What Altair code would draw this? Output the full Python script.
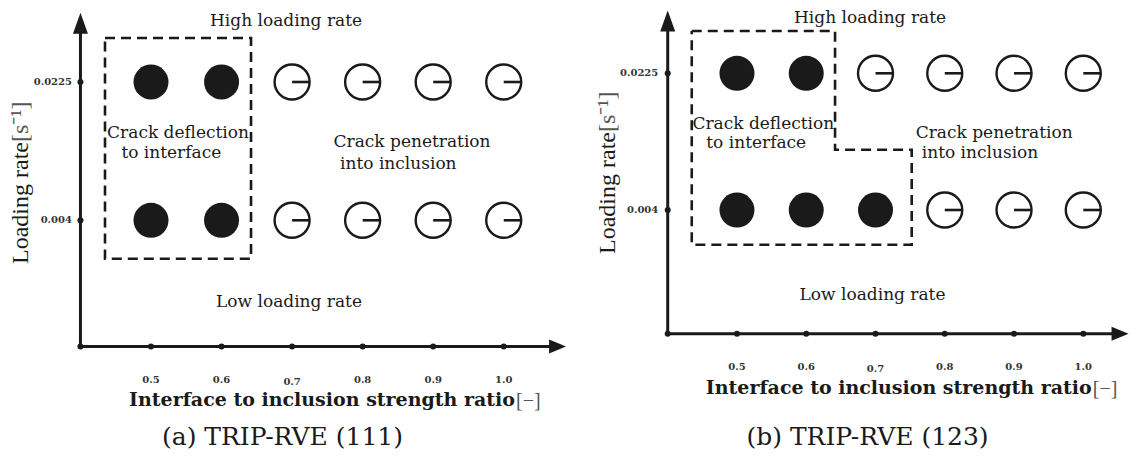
import altair as alt
import pandas as pd

# ---------------- data ----------------
ratios = [0.5, 0.6, 0.7, 0.8, 0.9, 1.0]
ratio_labels = ["0.5", "0.6", "0.7", "0.8", "0.9", "1.0"]
rate_labels = ["0.0225", "0.004"]
rate_levels = [2, 1]          # row of each loading rate (high, low)

# crack behaviour: D = deflection to interface (filled), P = penetration into inclusion (open)
a_high = ["D", "D", "P", "P", "P", "P"]
a_low = ["D", "D", "P", "P", "P", "P"]
b_high = ["D", "D", "P", "P", "P", "P"]
b_low = ["D", "D", "D", "P", "P", "P"]

captions = ["(a) TRIP-RVE (111)", "(b) TRIP-RVE (123)"]
x_title = "Interface to inclusion strength ratio"
x_unit = "[\u2212]"
y_title = "Loading rate"
y_unit = "[s\u207b\u00b9]"

region_texts = ["High loading rate", "Crack deflection", "to interface",
                "Crack penetration", "into inclusion", "Low loading rate"]

# dashed region boundaries, in (ratio, row level) units
box_a_x = [0.4348, 0.6418, 0.6418, 0.4348, 0.4348]
box_a_y = [2.318, 2.318, 0.722, 0.722, 2.318]
box_b_x = [0.4347, 0.6416, 0.6416, 0.7523, 0.7523, 0.4347, 0.4347]
box_b_y = [2.309, 2.309, 1.441, 1.441, 0.746, 0.746, 2.309]

# annotation anchors (ratio, level) per panel
a_text_x = [0.6914, 0.5383, 0.5288, 0.8700, 0.8506, 0.6956]
a_text_y = [2.4027, 1.5929, 1.4505, 1.5300, 1.3709, 0.3731]
b_text_x = [0.6921, 0.5380, 0.5278, 0.8714, 0.8509, 0.6957]
b_text_y = [2.3680, 1.5940, 1.4572, 1.5282, 1.3840, 0.3416]

tick_label_shift = [0.0, 0.0, -0.018, 0.0, 0.0, 0.0]

panels = [
    dict(xdom=[0.2973, 1.1223], ydom=[-0.7187, 2.5206], origin=0.4, axis_level=0.0875,
         y_arrow=2.425, y_end=2.36, x_arrow=1.0763, x_end=1.066,
         high=a_high, low=a_low, box_x=box_a_x, box_y=box_a_y,
         tx=a_text_x, ty=a_text_y, xtick_level=-0.1547, ytick_x=0.388,
         xt_x=1.016, xt_y=-0.3427, yt_x=0.3261, yt_y=1.5662,
         cap=captions[0], cap_x=0.6864, cap_y=-0.6247, width=582),
    dict(xdom=[0.2878, 1.0660], ydom=[-0.8142, 2.4631], origin=0.4, axis_level=0.0944,
         y_arrow=2.3826, y_end=2.315, x_arrow=1.0531, x_end=1.043,
         high=b_high, low=b_low, box_x=box_b_x, box_y=box_b_y,
         tx=b_text_x, ty=b_text_y, xtick_level=-0.1485, ytick_x=0.3864,
         xt_x=1.0122, xt_y=-0.3438, yt_x=0.3239, yt_y=1.5706,
         cap=captions[1], cap_x=0.6885, cap_y=-0.7191, width=539),
]

INK = "#1a1a1a"
SERIF = "DejaVu Serif"


def make_panel(p):
    xs = alt.Scale(domain=p["xdom"], nice=False, zero=False)
    ys = alt.Scale(domain=p["ydom"], nice=False, zero=False)

    def X(f):
        return alt.X(f, type="quantitative", scale=xs, axis=None)

    def Y(f):
        return alt.Y(f, type="quantitative", scale=ys, axis=None)

    o, al = p["origin"], p["axis_level"]

    # axis lines
    lines = pd.DataFrame({"x": [o, o], "x2": [o, p["x_end"]],
                          "y": [al, al], "y2": [p["y_end"], al]})
    axis_lines = alt.Chart(lines).mark_rule(color=INK, strokeWidth=3, strokeCap="butt").encode(
        x=X("x"), x2=alt.X2("x2"), y=Y("y"), y2=alt.Y2("y2"))

    up = alt.Chart(pd.DataFrame({"x": [o], "y": [p["y_arrow"]]})).mark_point(
        shape="M0,-1L0.714,1L-0.714,1Z", size=441, filled=True, color=INK, opacity=1,
        strokeWidth=0).encode(x=X("x"), y=Y("y"))
    right = alt.Chart(pd.DataFrame({"x": [p["x_arrow"]], "y": [al]})).mark_point(
        shape="M1,0L-1,-0.82L-1,0.82Z", size=289, filled=True, color=INK, opacity=1,
        strokeWidth=0).encode(x=X("x"), y=Y("y"))

    # tick dots
    dots = pd.DataFrame({"x": [o] + ratios + [o, o], "y": [al] * 7 + rate_levels})
    tick_dots = alt.Chart(dots).mark_circle(size=36, color=INK, opacity=1).encode(
        x=X("x"), y=Y("y"))

    # tick labels
    xl = pd.DataFrame({"x": ratios, "t": ratio_labels,
                       "y": [p["xtick_level"] + s for s in tick_label_shift]})
    xlab = alt.Chart(xl).mark_text(font=SERIF, fontSize=10, fontWeight="bold", color="#333333",
                                   align="center", baseline="middle").encode(
        x=X("x"), y=Y("y"), text="t")
    yl = pd.DataFrame({"x": [p["ytick_x"]] * 2, "y": rate_levels, "t": rate_labels})
    ylab = alt.Chart(yl).mark_text(font=SERIF, fontSize=10, fontWeight="bold", color="#333333",
                                   align="right", baseline="middle").encode(
        x=X("x"), y=Y("y"), text="t")

    # axis titles
    xt = alt.Chart(pd.DataFrame({"x": [p["xt_x"]], "y": [p["xt_y"]], "t": [x_title]})).mark_text(
        font=SERIF, fontSize=19, fontWeight="bold", color=INK, align="right",
        baseline="alphabetic").encode(x=X("x"), y=Y("y"), text="t")
    xu = alt.Chart(pd.DataFrame({"x": [p["xt_x"]], "y": [p["xt_y"]], "t": [x_unit]})).mark_text(
        font="Liberation Serif", fontSize=20, color="#555555", align="left", dx=1, dy=1,
        baseline="alphabetic").encode(x=X("x"), y=Y("y"), text="t")
    yt = alt.Chart(pd.DataFrame({"x": [p["yt_x"]], "y": [p["yt_y"]], "t": [y_title]})).mark_text(
        font="Liberation Serif", fontSize=24, color=INK, align="right", angle=270,
        baseline="alphabetic").encode(x=X("x"), y=Y("y"), text="t")
    yu = alt.Chart(pd.DataFrame({"x": [p["yt_x"]], "y": [p["yt_y"]], "t": [y_unit]})).mark_text(
        font="Liberation Serif", fontSize=24, color="#555555", align="left", angle=270,
        baseline="alphabetic").encode(x=X("x"), y=Y("y"), text="t")

    # dashed region
    box = pd.DataFrame({"x": p["box_x"], "y": p["box_y"], "i": list(range(len(p["box_x"])))})
    region = alt.Chart(box).mark_line(color=INK, strokeWidth=2.6, strokeDash=[10, 6],
                                      strokeCap="butt").encode(
        x=X("x"), y=Y("y"), order="i:Q")

    # result circles
    rows = []
    for lv, outs in zip(rate_levels, [p["high"], p["low"]]):
        for r, k in zip(ratios, outs):
            rows.append({"x": r, "y": lv, "k": k})
    circ = pd.DataFrame(rows)
    filled = alt.Chart(circ[circ.k == "D"]).mark_circle(size=1225, color=INK, opacity=1).encode(
        x=X("x"), y=Y("y"))
    ring = alt.Chart(circ[circ.k == "P"]).mark_point(shape="circle", size=1225, filled=False,
                                                     color=INK, strokeWidth=2.4, opacity=1).encode(
        x=X("x"), y=Y("y"))
    crack = alt.Chart(circ[circ.k == "P"]).mark_point(shape="M0,0L1,0", size=1225, filled=False,
                                                      color=INK, strokeWidth=2.6, opacity=1).encode(
        x=X("x"), y=Y("y"))

    # region annotations
    ann = pd.DataFrame({"x": p["tx"], "y": p["ty"], "t": region_texts})
    notes = alt.Chart(ann).mark_text(font=SERIF, fontSize=17, color=INK, align="center",
                                     baseline="alphabetic").encode(x=X("x"), y=Y("y"), text="t")

    cap = alt.Chart(pd.DataFrame({"x": [p["cap_x"]], "y": [p["cap_y"]], "t": [p["cap"]]})).mark_text(
        font=SERIF, fontSize=25, color=INK, align="center", baseline="alphabetic").encode(
        x=X("x"), y=Y("y"), text="t")

    return alt.layer(region, axis_lines, up, right, tick_dots, filled, ring, crack,
                     xlab, ylab, xt, xu, yt, yu, notes, cap).properties(
        width=p["width"], height=448)


chart = alt.hconcat(*[make_panel(p) for p in panels], spacing=0, bounds="flush").properties(
    padding=0, background="white").configure_view(stroke=None)

chart.save("out.html", embed_options={"renderer": "svg", "actions": False})
